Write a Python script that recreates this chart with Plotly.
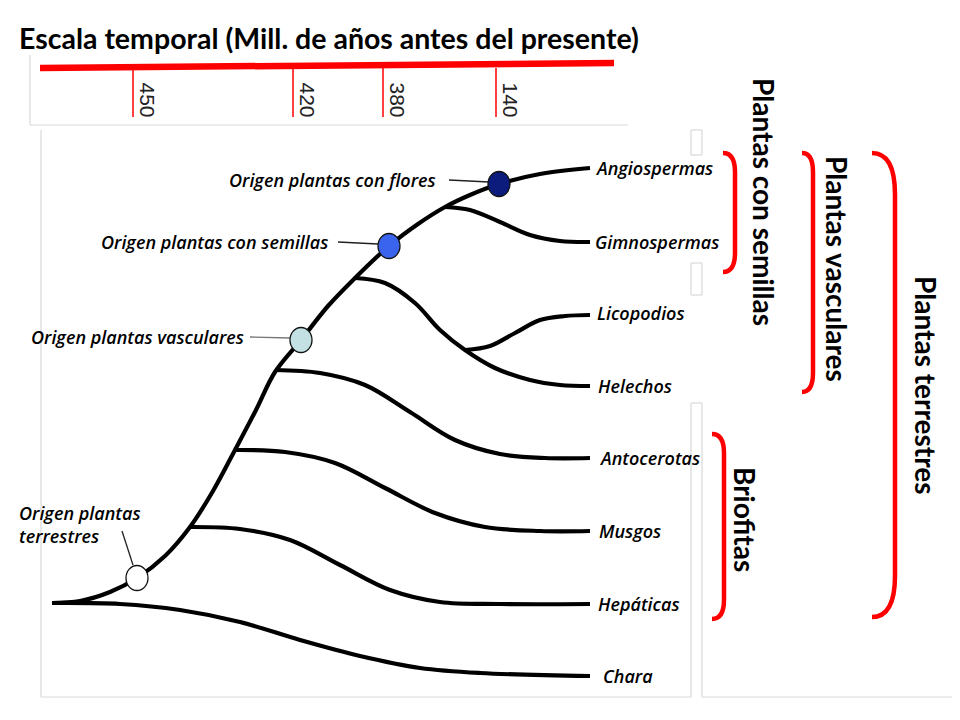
import plotly.graph_objects as go

# ---------------- data ----------------
title_text = "Escala temporal (Mill. de años antes del presente)"

scale_ticks = ["450", "420", "380", "140"]
scale_tick_x = [133, 293, 383, 496]
scale_bar_x = [40, 614]
scale_bar_y = [68, 63]

trunk_x = [52, 80, 110, 137, 165, 190, 213, 235, 256, 275, 301, 328, 355, 389, 418, 445, 470, 499, 540, 590]
trunk_y = [603, 601, 592, 578, 556, 527, 491, 450, 410, 372, 340, 306, 278, 246, 224, 207, 195, 184, 174, 168]

chara_x = [52, 120, 180, 240, 300, 360, 420, 480, 590]
chara_y = [603, 604, 610, 622, 640, 656, 668, 673, 676]
hepat_x = [190, 240, 290, 340, 390, 440, 500, 590]
hepat_y = [527, 529, 540, 565, 590, 602, 604, 604]
musgo_x = [235, 285, 335, 385, 435, 485, 540, 590]
musgo_y = [450, 452, 463, 488, 513, 527, 531, 531]
antoc_x = [275, 320, 365, 410, 455, 500, 545, 590]
antoc_y = [370, 373, 385, 412, 440, 454, 458, 458]
helec_x = [355, 385, 415, 440, 465, 495, 530, 560, 590]
helec_y = [278, 283, 303, 330, 350, 368, 380, 385, 386]
licop_x = [465, 490, 515, 540, 565, 590]
licop_y = [350, 346, 333, 320, 316, 315]
gimno_x = [445, 470, 500, 530, 560, 590]
gimno_y = [207, 210, 222, 235, 241, 242]

leaf_names = ["Angiospermas", "Gimnospermas", "Licopodios", "Helechos",
              "Antocerotas", "Musgos", "Hepáticas", "Chara"]
leaf_x = [593, 593, 595, 596, 597, 597, 596, 601]
leaf_y = [168, 242, 313, 386, 458, 531, 604, 676]

node_x = [137, 301, 389, 499]
node_y = [578, 340, 246, 184]
node_fill = ["#ffffff", "#c3e0e2", "#3a63ee", "#0b1c7c"]

origin_labels = ["Origen plantas con flores", "Origen plantas con semillas",
                 "Origen plantas vasculares", "Origen plantas<br>terrestres"]
origin_text_x = [438, 330, 246, 17]
origin_text_y = [180, 242, 337, 524]
leader_x0 = [449, 338, 250, 122]
leader_y0 = [180, 242, 337, 531]
leader_x1 = [489, 378, 290, 133]
leader_y1 = [182, 244, 338, 565]
leader_col = ["#222222", "#222222", "#777777", "#222222"]

group_names = ["Plantas con semillas", "Plantas vasculares", "Plantas terrestres", "Briofitas"]
group_end_x = [723, 802, 872, 712]
group_spine_x = [735, 813, 895, 724]
group_top = [153, 153, 153, 434]
group_bot = [272, 392, 617, 619]
group_radius = [12, 12, 26, 12]
group_text_x = [764, 837, 926, 745]
group_text_y = [202, 269, 385, 519]

# page offset compensation (browser body margin)
OFF = 8

# ---------------- figure ----------------
fig = go.Figure()

def line(x, y, color="black", width=4.2, shape="spline"):
    fig.add_trace(go.Scatter(x=x, y=y, mode="lines", hoverinfo="skip",
                             line=dict(color=color, width=width, shape=shape, smoothing=1.0),
                             showlegend=False))

# tree
for bx, by in [(chara_x, chara_y), (hepat_x, hepat_y), (musgo_x, musgo_y),
               (antoc_x, antoc_y), (helec_x, helec_y), (licop_x, licop_y),
               (gimno_x, gimno_y), (trunk_x, trunk_y)]:
    line(bx, by)

# leaders
for i in range(len(leader_x0)):
    line([leader_x0[i], leader_x1[i]], [leader_y0[i], leader_y1[i]],
         color=leader_col[i], width=1.3, shape="linear")

# time scale
line(scale_bar_x, scale_bar_y, color="#ff0000", width=6.5, shape="linear")
for i, tx in enumerate(scale_tick_x):
    line([tx, tx], [68, 117], color="#ff0000", width=1.5, shape="linear")

shapes = []
gray = "#d9d9d9"
def gline(x0, y0, x1, y1):
    shapes.append(dict(type="line", x0=x0, y0=y0, x1=x1, y1=y1, xref="x", yref="y",
                       line=dict(color=gray, width=1.2), layer="below"))

# frames
gline(30, 55, 30, 125); gline(30, 125, 628, 125)
gline(41, 130, 41, 697); gline(41, 697, 691, 697)
gline(691, 403, 691, 697); gline(691, 130, 691, 155); gline(691, 263, 691, 295)
gline(702, 130, 702, 155); gline(702, 263, 702, 295)
gline(691, 130, 702, 130); gline(691, 155, 702, 155)
gline(691, 263, 702, 263); gline(691, 295, 702, 295)
gline(691, 403, 702, 403)
gline(702, 403, 702, 697); gline(702, 697, 960, 697)

# nodes
for i in range(len(node_x)):
    shapes.append(dict(type="circle", xref="x", yref="y",
                       x0=node_x[i] - 11, x1=node_x[i] + 11,
                       y0=node_y[i] - 12.5, y1=node_y[i] + 12.5,
                       fillcolor=node_fill[i], line=dict(color="#111111", width=1.3),
                       layer="above"))

# brackets
for i in range(len(group_names)):
    e, s, t, b, r = group_end_x[i], group_spine_x[i], group_top[i], group_bot[i], group_radius[i]
    path = (f"M {e},{t} Q {s},{t} {s},{t + r * 1.6} L {s},{b - r * 1.6} "
            f"Q {s},{b} {e},{b}")
    shapes.append(dict(type="path", path=path, xref="x", yref="y",
                       line=dict(color="#ff0000", width=4.5), layer="above"))

lab_font = dict(family="Open Sans", size=18, color="black", style="italic", weight=600)

ann = []
ann.append(dict(text=title_text, x=17, y=38, xanchor="left", yanchor="middle",
                showarrow=False, font=dict(family="Lato", size=28.5, color="black", weight="bold")))
for i, t in enumerate(scale_ticks):
    ann.append(dict(text=t, x=scale_tick_x[i] + 1, y=100, xanchor="left", yanchor="middle",
                    textangle=90, showarrow=False,
                    font=dict(family="Liberation Sans", size=21, color="#222222")))
for i, t in enumerate(leaf_names):
    ann.append(dict(text=t, x=leaf_x[i], y=leaf_y[i], xanchor="left", yanchor="middle",
                    showarrow=False, font=lab_font))
for i, t in enumerate(origin_labels):
    ann.append(dict(text=t, x=origin_text_x[i], y=origin_text_y[i],
                    xanchor="left" if i == 3 else "right", yanchor="middle", align="left",
                    showarrow=False, font=lab_font))
for i, t in enumerate(group_names):
    ann.append(dict(text=t, x=group_text_x[i], y=group_text_y[i], xanchor="center", yanchor="middle",
                    textangle=90, showarrow=False,
                    font=dict(family="Lato", size=28, color="black", weight="bold")))

fig.update_layout(
    width=960, height=720, margin=dict(l=0, r=0, t=0, b=0),
    paper_bgcolor="white", plot_bgcolor="white",
    xaxis=dict(range=[OFF, 960 + OFF], visible=False, fixedrange=True),
    yaxis=dict(range=[720 + OFF, OFF], visible=False, fixedrange=True),
    shapes=shapes, annotations=ann, showlegend=False,
)

fig.write_html("out.html")
